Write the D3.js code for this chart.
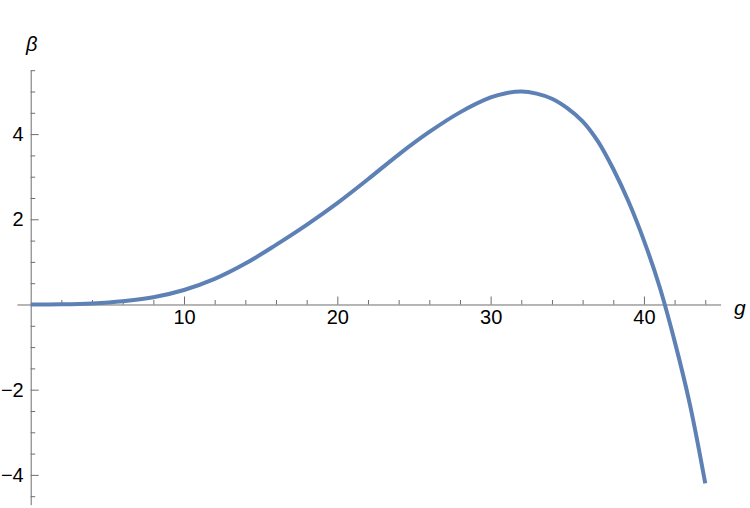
<!DOCTYPE html>
<html>
<head>
<meta charset="utf-8">
<script src="https://cdn.jsdelivr.net/npm/d3@7"></script>
<style>
  html, body { margin: 0; padding: 0; background: #fff; }
  svg { display: block; }
  text { font-family: "Liberation Sans", Arial, sans-serif; }
</style>
</head>
<body>
<script>
const gValues = [0, 2, 4, 6, 8, 10, 12, 14, 16, 18, 20, 22, 24, 26, 28, 30, 31, 32, 33, 34, 35, 36, 37, 38, 39, 40, 41, 42, 43, 44];
const betaValues = [0, 0.005, 0.025, 0.075, 0.17, 0.34, 0.60, 0.96, 1.40, 1.87, 2.38, 2.94, 3.52, 4.05, 4.51, 4.86, 4.96, 5.0, 4.95, 4.83, 4.61, 4.3, 3.83, 3.18, 2.41, 1.5, 0.44, -0.86, -2.35, -4.2];
const xMajorTicks = [10, 20, 30, 40];
const xMinorTicks = [2, 4, 6, 8, 12, 14, 16, 18, 22, 24, 26, 28, 32, 34, 36, 38, 42, 44];
const yMajorTicks = [-4, -2, 2, 4];
const yMinorTicks = [-4.5, -3.5, -3, -2.5, -1.5, -1, -0.5, 0.5, 1, 1.5, 2.5, 3, 3.5, 4.5, 5, 5.5];
const xLabel = "g";
const yLabel = "β";

const W = 750, H = 508;
const svg = d3.select("body").append("svg").attr("width", W).attr("height", H);

const x = d3.scaleLinear().domain([-0.9, 45]).range([16.9, 720.6]);
const y = d3.scaleLinear().domain([-4.7, 5.5]).range([504.7, 70.2]);

const axisColor = "#6e6e6e";
const fmt = d => d < 0 ? "\u2212" + Math.abs(d) : String(d);

// x axis (at y = 0)
const gx = svg.append("g").attr("transform", `translate(0,${y(0)})`);
gx.call(d3.axisBottom(x).tickValues(xMajorTicks).tickSizeInner(-8).tickSizeOuter(0).tickPadding(5).tickFormat(fmt));
const gxm = svg.append("g").attr("transform", `translate(0,${y(0)})`);
gxm.call(d3.axisBottom(x).tickValues(xMinorTicks).tickSizeInner(-4.5).tickSizeOuter(0).tickFormat(""));
gxm.select(".domain").remove();

// y axis (at x = 0)
const gy = svg.append("g").attr("transform", `translate(${x(0)},0)`);
gy.call(d3.axisLeft(y).tickValues(yMajorTicks).tickSizeInner(-8).tickSizeOuter(0).tickPadding(7).tickFormat(fmt));
const gym = svg.append("g").attr("transform", `translate(${x(0)},0)`);
gym.call(d3.axisLeft(y).tickValues(yMinorTicks).tickSizeInner(-4.5).tickSizeOuter(0).tickFormat(""));
gym.select(".domain").remove();

svg.selectAll(".domain, .tick line").attr("stroke", axisColor).attr("stroke-width", 1);
svg.selectAll("g").attr("font-size", null).attr("font-family", null);
svg.selectAll(".tick text").attr("fill", "#000").style("font-size", "20px")
   .style("font-family", "'Liberation Sans', Arial, sans-serif");

// curve
const pts = gValues.map((g, i) => [g, betaValues[i]]);
svg.append("path")
  .datum(pts)
  .attr("fill", "none")
  .attr("stroke", "#5E81B5")
  .attr("stroke-width", 4)
  .attr("d", d3.line().x(d => x(d[0])).y(d => y(d[1])).curve(d3.curveCatmullRom.alpha(0.5)));

// axis labels
svg.append("text").attr("x", 26).attr("y", 51)
  .style("font-style", "italic").style("font-size", "20px").attr("fill", "#000").text(yLabel);
svg.append("text").attr("x", 734).attr("y", 315)
  .style("font-style", "italic").style("font-size", "21px").attr("fill", "#000").text(xLabel);
</script>
</body>
</html>
